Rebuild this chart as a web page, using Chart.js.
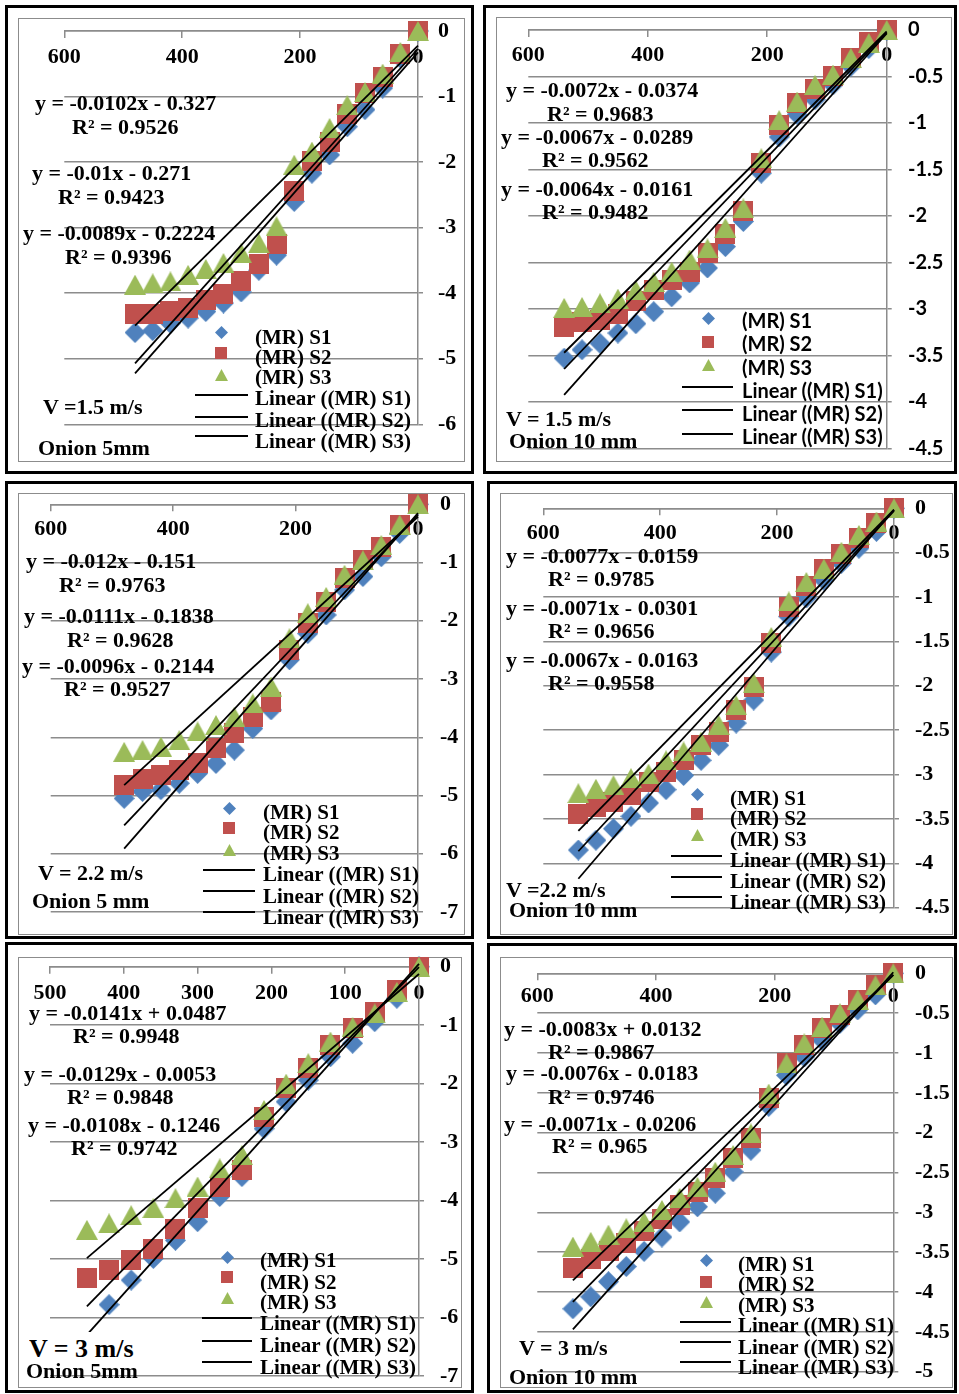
<!DOCTYPE html>
<html>
<head>
<meta charset="utf-8">
<title>Drying kinetics of onion slices</title>
<script src="https://cdn.jsdelivr.net/npm/chart.js@4.4.1/dist/chart.umd.min.js"></script>
<style>
  html, body { margin: 0; padding: 0; background: #fff; }
  #page { position: relative; width: 959px; height: 1394px; overflow: hidden; background: #fff; }
  .frame { position: absolute; box-sizing: border-box; border: 3px solid #000; background: #fff; }
  .inner { position: absolute; box-sizing: border-box; border: 1px solid #8c8c8c; }
  .plot { position: absolute; }
  .txt { position: absolute; white-space: nowrap; color: #000; font-family: 'Liberation Serif', 'Times New Roman', serif; font-weight: bold; font-size: 22px; line-height: 26px; }
  .mark { position: absolute; }
  .key { position: absolute; height: 2px; background: #000; }
</style>
</head>
<body>
<div id="page"></div>
<script>
// ---------- drying time (min) ----------
const time480 = [0, 30, 60, 90, 120, 150, 180, 210, 240, 270, 300, 330, 360, 390, 420, 450, 480];
const time450 = [0, 30, 60, 90, 120, 150, 180, 210, 240, 270, 300, 330, 360, 390, 420, 450];
const time540 = [0, 30, 60, 90, 120, 150, 180, 210, 240, 270, 300, 330, 360, 390, 420, 450, 480, 510, 540];

const seriesNames = ['(MR) S1', '(MR) S2', '(MR) S3'];
const trendNames = ['Linear ((MR) S1)', 'Linear ((MR) S2)', 'Linear ((MR) S3)'];

// ---------- V = 1.5 m/s, onion 5 mm ----------
const p1S1 = [0, -0.41, -0.87, -1.20, -1.46, -1.89, -2.17, -2.60, -3.42, -3.65, -3.98, -4.15, -4.28, -4.38, -4.46, -4.57, -4.60];
const p1S2 = [0, -0.35, -0.70, -0.94, -1.27, -1.70, -1.99, -2.44, -3.25, -3.55, -3.81, -4.01, -4.11, -4.23, -4.27, -4.32, -4.32];
const p1S3 = [0, -0.32, -0.65, -0.93, -1.13, -1.48, -1.84, -2.04, -2.98, -3.24, -3.39, -3.54, -3.63, -3.72, -3.82, -3.85, -3.87];
const p1Slope = [-0.0102, -0.01, -0.0089];
const p1Intercept = [-0.327, -0.271, -0.2224];
const p1R2 = [0.9526, 0.9423, 0.9396];
const p1XTicks = [0, 200, 400, 600];
const p1YTicks = [-6, -5, -4, -3, -2, -1, 0];
const p1Speed = 'V =1.5 m/s';
const p1Sample = 'Onion 5mm';

// ---------- V = 1.5 m/s, onion 10 mm ----------
const p2S1 = [0, -0.20, -0.39, -0.59, -0.75, -0.91, -1.15, -1.54, -2.06, -2.33, -2.56, -2.72, -2.87, -3.03, -3.16, -3.26, -3.37, -3.44, -3.53];
const p2S2 = [0, -0.13, -0.30, -0.50, -0.63, -0.79, -1.02, -1.43, -1.95, -2.19, -2.40, -2.60, -2.69, -2.80, -2.92, -3.05, -3.12, -3.14, -3.19];
const p2S3 = [0, -0.14, -0.30, -0.48, -0.59, -0.77, -0.97, -1.38, -1.92, -2.13, -2.35, -2.47, -2.60, -2.71, -2.80, -2.89, -2.94, -2.98, -2.99];
const p2Slope = [-0.0072, -0.0067, -0.0064];
const p2Intercept = [-0.0374, -0.0289, -0.0161];
const p2R2 = [0.9683, 0.9562, 0.9482];
const p2XTicks = [0, 200, 400, 600];
const p2YTicks = [-4.5, -4, -3.5, -3, -2.5, -2, -1.5, -1, -0.5, 0];
const p2Speed = 'V = 1.5 m/s';
const p2Sample = 'Onion 10 mm';

// ---------- V = 2.2 m/s, onion 5 mm ----------
const p3S1 = [0, -0.50, -0.90, -1.24, -1.47, -1.90, -2.22, -2.67, -3.53, -3.85, -4.22, -4.45, -4.62, -4.79, -4.90, -4.93, -5.05];
const p3S2 = [0, -0.35, -0.73, -0.96, -1.27, -1.67, -2.04, -2.50, -3.39, -3.65, -3.93, -4.19, -4.45, -4.56, -4.65, -4.71, -4.82];
const p3S3 = [0, -0.35, -0.70, -0.96, -1.21, -1.59, -1.87, -2.30, -3.13, -3.42, -3.65, -3.79, -3.90, -4.05, -4.16, -4.22, -4.25];
const p3Slope = [-0.012, -0.0111, -0.0096];
const p3Intercept = [-0.151, -0.1838, -0.2144];
const p3R2 = [0.9763, 0.9628, 0.9527];
const p3XTicks = [0, 200, 400, 600];
const p3YTicks = [-7, -6, -5, -4, -3, -2, -1, 0];
const p3Speed = 'V = 2.2 m/s';
const p3Sample = 'Onion 5 mm';

// ---------- V = 2.2 m/s, onion 10 mm ----------
const p4S1 = [0, -0.26, -0.45, -0.62, -0.81, -1.01, -1.22, -1.62, -2.16, -2.42, -2.67, -2.84, -3.01, -3.17, -3.32, -3.47, -3.61, -3.74, -3.85];
const p4S2 = [0, -0.17, -0.34, -0.51, -0.68, -0.88, -1.11, -1.52, -2.01, -2.27, -2.52, -2.67, -2.84, -2.97, -3.08, -3.23, -3.31, -3.36, -3.44];
const p4S3 = [0, -0.15, -0.30, -0.49, -0.68, -0.83, -1.05, -1.45, -1.97, -2.22, -2.44, -2.63, -2.74, -2.84, -2.99, -3.04, -3.12, -3.16, -3.21];
const p4Slope = [-0.0077, -0.0071, -0.0067];
const p4Intercept = [-0.0159, -0.0301, -0.0163];
const p4R2 = [0.9785, 0.9656, 0.9558];
const p4XTicks = [0, 200, 400, 600];
const p4YTicks = [-4.5, -4, -3.5, -3, -2.5, -2, -1.5, -1, -0.5, 0];
const p4Speed = 'V =2.2 m/s';
const p4Sample = 'Onion 10 mm';

// ---------- V = 3 m/s, onion 5 mm ----------
const p5S1 = [0, -0.54, -0.94, -1.31, -1.54, -1.94, -2.31, -2.77, -3.59, -3.93, -4.36, -4.68, -4.99, -5.36, -5.78, -6.48];
const p5S2 = [0, -0.40, -0.77, -1.05, -1.34, -1.74, -2.08, -2.57, -3.48, -3.76, -4.13, -4.48, -4.82, -5.02, -5.19, -5.32];
const p5S3 = [0, -0.43, -0.80, -1.03, -1.28, -1.65, -2.00, -2.45, -3.22, -3.45, -3.76, -3.96, -4.13, -4.25, -4.39, -4.50];
const p5Slope = [-0.0141, -0.0129, -0.0108];
const p5Intercept = [0.0487, -0.0053, -0.1246];
const p5R2 = [0.9948, 0.9848, 0.9742];
const p5XTicks = [0, 100, 200, 300, 400, 500];
const p5YTicks = [-7, -6, -5, -4, -3, -2, -1, 0];
const p5Speed = 'V = 3 m/s';
const p5Sample = 'Onion 5mm';

// ---------- V = 3 m/s, onion 10 mm ----------
const p6S1 = [0, -0.27, -0.46, -0.63, -0.84, -1.05, -1.28, -1.67, -2.22, -2.49, -2.76, -2.93, -3.12, -3.31, -3.49, -3.68, -3.87, -4.06, -4.21];
const p6S2 = [0, -0.15, -0.33, -0.52, -0.69, -0.90, -1.13, -1.57, -2.07, -2.32, -2.57, -2.74, -2.91, -3.08, -3.24, -3.39, -3.49, -3.58, -3.70];
const p6S3 = [0, -0.15, -0.33, -0.50, -0.67, -0.88, -1.13, -1.51, -2.01, -2.28, -2.49, -2.68, -2.82, -2.97, -3.12, -3.20, -3.28, -3.37, -3.43];
const p6Slope = [-0.0083, -0.0076, -0.0071];
const p6Intercept = [0.0132, -0.0183, -0.0206];
const p6R2 = [0.9867, 0.9746, 0.965];
const p6XTicks = [0, 200, 400, 600];
const p6YTicks = [-5, -4.5, -4, -3.5, -3, -2.5, -2, -1.5, -1, -0.5, 0];
const p6Speed = 'V = 3 m/s';
const p6Sample = 'Onion 10 mm';

// ---------- panel tables built from the arrays above ----------
const panels = [
  { times: time480, series: [p1S1, p1S2, p1S3], slope: p1Slope, icpt: p1Intercept, r2: p1R2, xTicks: p1XTicks, yTicks: p1YTicks, speed: p1Speed, sample: p1Sample },
  { times: time540, series: [p2S1, p2S2, p2S3], slope: p2Slope, icpt: p2Intercept, r2: p2R2, xTicks: p2XTicks, yTicks: p2YTicks, speed: p2Speed, sample: p2Sample },
  { times: time480, series: [p3S1, p3S2, p3S3], slope: p3Slope, icpt: p3Intercept, r2: p3R2, xTicks: p3XTicks, yTicks: p3YTicks, speed: p3Speed, sample: p3Sample },
  { times: time540, series: [p4S1, p4S2, p4S3], slope: p4Slope, icpt: p4Intercept, r2: p4R2, xTicks: p4XTicks, yTicks: p4YTicks, speed: p4Speed, sample: p4Sample },
  { times: time450, series: [p5S1, p5S2, p5S3], slope: p5Slope, icpt: p5Intercept, r2: p5R2, xTicks: p5XTicks, yTicks: p5YTicks, speed: p5Speed, sample: p5Sample },
  { times: time540, series: [p6S1, p6S2, p6S3], slope: p6Slope, icpt: p6Intercept, r2: p6R2, xTicks: p6XTicks, yTicks: p6YTicks, speed: p6Speed, sample: p6Sample }
];

// ---------- page geometry and styles ----------
const SERIF = "'Liberation Serif', 'Times New Roman', serif";
const SANS = "Lato, 'Liberation Sans', sans-serif";
const GRID = '#8c8c8c';
const COLORS = ['#4F81BD', '#C0504D', '#9BBB59'];

const layouts = [
  { box: [5, 5, 469, 469], inner: [18, 18, 447, 444], area: [64.3, 31, 418, 424.3], xPad: 13.2, yPad: 15, yFont: SERIF, lgFont: SERIF,
    eq: [[35, 103], [72, 127], [32, 173], [58, 197], [23, 233], [65, 257]], speedAt: [43, 407], sampleAt: [38, 448],
    lg: { mx: 221, my: [332, 353, 375], tx: 255, ty: [337, 357, 377, 398, 420, 441], lx: [195, 248], ly: [395, 417, 436] } },
  { box: [483, 5, 474, 469], inner: [496, 17, 456, 445], area: [528.3, 30, 886.7, 448.3], xPad: 11.8, yPad: 16.3, yFont: SANS, lgFont: SANS,
    eq: [[506, 90], [547, 114], [501, 137], [542, 160], [501, 189], [542, 212]], speedAt: [506, 419], sampleAt: [509, 441],
    lg: { mx: 708, my: [318, 342, 365], tx: 742, ty: [320, 343, 367, 390, 413, 436], lx: [682, 733], ly: [387, 410, 434] } },
  { box: [5, 481, 469, 458], inner: [18, 493, 447, 442], area: [50.7, 504.3, 418, 912], xPad: 11.5, yPad: 17, yFont: SERIF, lgFont: SERIF,
    eq: [[26, 561], [59, 585], [24, 616], [67, 640], [22, 666], [64, 689]], speedAt: [38, 873], sampleAt: [32, 901],
    lg: { mx: 229, my: [808, 828, 850], tx: 263, ty: [812, 832, 853, 874, 896, 917], lx: [203, 255], ly: [870, 891, 912] } },
  { box: [487, 481, 470, 458], inner: [500, 493, 453, 442], area: [543.3, 508.3, 894, 907.7], xPad: 11.8, yPad: 16, yFont: SERIF, lgFont: SERIF,
    eq: [[506, 556], [548, 579], [506, 608], [548, 631], [506, 660], [548, 683]], speedAt: [506, 890], sampleAt: [509, 910],
    lg: { mx: 697, my: [794, 814, 835], tx: 730, ty: [798, 818, 839, 860, 881, 902], lx: [671, 722], ly: [856, 877, 897] } },
  { box: [5, 942, 469, 451], inner: [18, 957, 444, 431], area: [50, 966.7, 419, 1376], xPad: 13.5, yPad: 16, yFont: SERIF, lgFont: SERIF,
    eq: [[29, 1013], [73, 1036], [24, 1074], [67, 1097], [28, 1125], [71, 1148]], speedAt: [29, 1349], speedSize: 26, speedBox: true, sampleAt: [26, 1371],
    lg: { mx: 227, my: [1257, 1277, 1298], tx: 260, ty: [1260, 1282, 1302, 1323, 1345, 1367], lx: [202, 252], ly: [1318, 1341, 1362] } },
  { box: [487, 943, 470, 450], inner: [500, 957, 453, 431], area: [537.3, 973.3, 893.3, 1371.7], xPad: 10.1, yPad: 16.7, yFont: SERIF, lgFont: SERIF,
    eq: [[504, 1029], [548, 1052], [506, 1073], [548, 1097], [504, 1124], [552, 1146]], speedAt: [519, 1348], sampleAt: [509, 1377],
    lg: { mx: 706, my: [1260, 1282, 1302], tx: 738, ty: [1264, 1284, 1305, 1325, 1347, 1367], lx: [680, 731], ly: [1322, 1342, 1362] } }
];

// Flat-filled marker bitmaps (diamond / square / triangle) used as point styles
function makeMarker(shape, w, h, color) {
  const c = document.createElement('canvas');
  c.width = w; c.height = h;
  const g = c.getContext('2d');
  g.fillStyle = color;
  g.beginPath();
  if (shape === 'diamond') {
    g.moveTo(w / 2, 0); g.lineTo(w, h / 2); g.lineTo(w / 2, h); g.lineTo(0, h / 2);
  } else if (shape === 'square') {
    g.rect(0, 0, w, h);
  } else {
    g.moveTo(w / 2, 0); g.lineTo(w, h); g.lineTo(0, h);
  }
  g.closePath();
  g.fill();
  return c;
}

const page = document.getElementById('page');

function box(cls, x, y, w, h) {
  const d = document.createElement('div');
  d.className = cls;
  d.style.left = x + 'px'; d.style.top = y + 'px';
  d.style.width = w + 'px'; d.style.height = h + 'px';
  page.appendChild(d);
  return d;
}

function label(text, x, cy, opts) {
  opts = opts || {};
  const size = opts.size || 22;
  const lh = opts.lh || Math.round(size * 1.18);
  const d = document.createElement('div');
  d.className = 'txt';
  d.textContent = text;
  d.style.left = x + 'px';
  d.style.top = (cy - lh / 2) + 'px';
  d.style.fontSize = size + 'px';
  d.style.lineHeight = lh + 'px';
  if (opts.font) d.style.fontFamily = opts.font;
  if (opts.bg) { d.style.background = '#fff'; d.style.paddingRight = '6px'; }
  page.appendChild(d);
  return d;
}

function eqText(m, b) {
  return 'y = ' + m + 'x ' + (b < 0 ? '- ' : '+ ') + Math.abs(b);
}

// keep the plot rectangle exactly where the layout padding puts it
function clearScalePadding(s) {
  s.paddingLeft = 0; s.paddingRight = 0; s.paddingTop = 0; s.paddingBottom = 0;
}

panels.forEach((p, i) => {
  const L = layouts[i];
  const [bx, by, bw, bh] = L.box;
  box('frame', bx, by, bw, bh);
  box('inner', L.inner[0], L.inner[1], L.inner[2], L.inner[3]);

  const cv = document.createElement('canvas');
  cv.className = 'plot';
  cv.width = bw; cv.height = bh;
  cv.style.left = bx + 'px'; cv.style.top = by + 'px';
  page.appendChild(cv);

  const pointImgs = [
    makeMarker('diamond', 21, 21, COLORS[0]),
    makeMarker('square', 20, 20, COLORS[1]),
    makeMarker('triangle', 22, 20, COLORS[2])
  ];

  const datasets = [];
  const xEnd = p.times[p.times.length - 1];
  for (let k = 0; k < 3; k++) {
    datasets.push({
      label: trendNames[k],
      data: [0, xEnd].map(x => ({ x: x, y: p.slope[k] * x + p.icpt[k] })),
      showLine: true, borderColor: '#000', borderWidth: 1.8,
      pointRadius: 0, clip: false, order: 0
    });
  }
  for (let k = 0; k < 3; k++) {
    datasets.push({
      label: seriesNames[k],
      data: p.times.map((t, j) => ({ x: t, y: p.series[k][j] })),
      showLine: false, pointStyle: pointImgs[k], pointRadius: 10,
      clip: false, order: 3 - k
    });
  }

  const [al, at, ar, ab] = L.area;
  const rightGap = 3;
  const yAxisWidth = bx + bw - ar - rightGap;
  const tickFont = (fam) => ({ family: fam, size: fam === SANS ? 20 : 22, weight: 'bold', lineHeight: 1.2 });
  const xt = p.xTicks, yt = p.yTicks;

  new Chart(cv, {
    type: 'scatter',
    data: { datasets },
    options: {
      responsive: false, animation: false, devicePixelRatio: 1, events: [],
      layout: { autoPadding: false, padding: { left: al - bx, top: at - by, right: rightGap, bottom: by + bh - ab } },
      plugins: { legend: { display: false }, title: { display: false }, tooltip: { enabled: false } },
      scales: {
        x: {
          type: 'linear', position: 'top', reverse: true,
          min: Math.min(...xt), max: Math.max(...xt),
          afterFit: s => { s.height = 0; clearScalePadding(s); },
          afterBuildTicks: s => { s.ticks = xt.map(v => ({ value: v })); },
          grid: { drawOnChartArea: false, drawTicks: true, tickLength: -7, color: GRID, lineWidth: 1.5 },
          border: { display: true, color: GRID, width: 1.5 },
          ticks: { mirror: true, padding: L.xPad, color: '#000', font: tickFont(SERIF), autoSkip: false, maxRotation: 0, callback: v => String(v) }
        },
        y: {
          type: 'linear', position: 'right',
          min: Math.min(...yt), max: Math.max(...yt),
          afterFit: s => { s.width = yAxisWidth; clearScalePadding(s); },
          afterBuildTicks: s => { s.ticks = yt.map(v => ({ value: v })); },
          grid: { color: GRID, lineWidth: 1.5, tickLength: 5 },
          border: { display: true, color: GRID, width: 1.5 },
          ticks: { padding: L.yPad, color: '#000', font: tickFont(L.yFont), autoSkip: false, callback: v => String(v) }
        }
      }
    }
  });

  // regression equations
  for (let k = 0; k < 3; k++) {
    label(eqText(p.slope[k], p.icpt[k]), L.eq[2 * k][0], L.eq[2 * k][1]);
    label('R\u00B2 = ' + p.r2[k], L.eq[2 * k + 1][0], L.eq[2 * k + 1][1]);
  }

  // air velocity and slice thickness
  if (L.speedBox) {
    label(p.speed, L.speedAt[0], L.speedAt[1], { size: L.speedSize, lh: 34, bg: true });
  } else {
    label(p.speed, L.speedAt[0], L.speedAt[1], { size: L.speedSize || 22 });
  }
  label(p.sample, L.sampleAt[0], L.sampleAt[1]);

  // legend
  const lg = L.lg;
  const keyImgs = [
    makeMarker('diamond', 13, 13, COLORS[0]),
    makeMarker('square', 12, 12, COLORS[1]),
    makeMarker('triangle', 13, 12, COLORS[2])
  ];
  const lgSize = L.lgFont === SANS ? 20 : 21;
  for (let k = 0; k < 3; k++) {
    const m = keyImgs[k];
    m.className = 'mark';
    m.style.left = (lg.mx - m.width / 2) + 'px';
    m.style.top = (lg.my[k] - m.height / 2) + 'px';
    page.appendChild(m);
    label(seriesNames[k], lg.tx, lg.ty[k], { size: lgSize, lh: 26, font: L.lgFont });
  }
  for (let k = 0; k < 3; k++) {
    box('key', lg.lx[0], lg.ly[k] - 1, lg.lx[1] - lg.lx[0], 2);
    label(trendNames[k], lg.tx, lg.ty[3 + k], { size: lgSize, lh: 26, font: L.lgFont });
  }
});
</script>
</body>
</html>
